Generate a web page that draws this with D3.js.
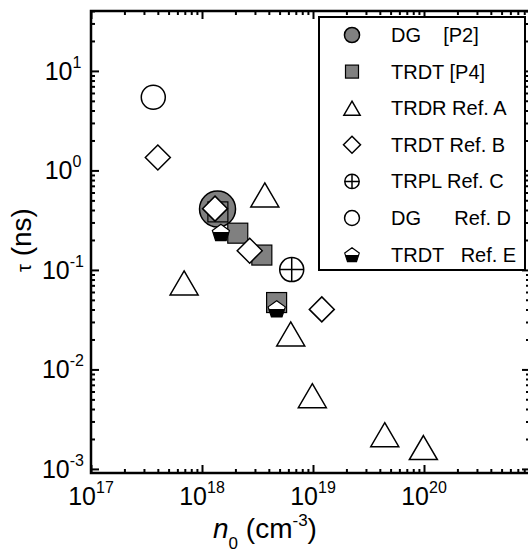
<!DOCTYPE html>
<html>
<head>
<meta charset="utf-8">
<script src="https://cdn.jsdelivr.net/npm/d3@7"></script>
<style>
  html, body { margin: 0; padding: 0; background: #fff; }
  svg { display: block; font-family: "Liberation Sans", Arial, sans-serif; }
  .leg text { white-space: pre; }
</style>
</head>
<body>
<div id="chart"></div>
<script>
// values: [n0 (cm^-3), tau (ns)]
var dgP2     = [[1.38e18, 0.41]];
var trdtP4   = [[1.39e18, 0.383], [2.1e18, 0.234], [3.46e18, 0.141], [4.7e18, 0.047]];
var trdrRefA = [[6.9e17, 0.074], [3.68e18, 0.567], [6.3e18, 0.0227], [9.86e18, 0.00544], [4.43e19, 0.00221], [9.87e19, 0.00164]];
var trdtRefB = [[4.0e17, 1.35], [1.31e18, 0.413], [2.69e18, 0.156], [1.2e19, 0.0401]];
var trplRefC = [[6.43e18, 0.1007]];
var dgRefD   = [[3.64e17, 5.44]];
var trdtRefE = [[1.48e18, 0.239], [4.71e18, 0.0408]];

var xMajor = [1e17, 1e18, 1e19, 1e20];
var xExp = ["17", "18", "19", "20"];
var yMajor = [1e1, 1e0, 1e-1, 1e-2, 1e-3];
var yExp = ["1", "0", "-1", "-2", "-3"];

var legendLabels = ["DG    [P2]", "TRDT [P4]", "TRDR Ref. A", "TRDT Ref. B", "TRPL Ref. C", "DG      Ref. D", "TRDT   Ref. E"];
var legendTypes = ["gcircle", "gsquare", "triangle", "diamond", "ocross", "ocircle", "pentagon"];

var W = 528, H = 554;
var margin = {top: 11, right: -2, bottom: 81, left: 91};
var pL = margin.left, pR = W - margin.right, pT = margin.top, pB = H - margin.bottom;
var xMax = Math.pow(10, 17 + (pR - pL) / 111);

var svg = d3.select("#chart").append("svg").attr("width", W).attr("height", H);

var defs = svg.append("defs");
var grad = defs.append("linearGradient").attr("id", "halfblack")
    .attr("x1", 0).attr("y1", 0).attr("x2", 0).attr("y2", 1);
grad.append("stop").attr("offset", "50%").attr("stop-color", "#fff");
grad.append("stop").attr("offset", "50%").attr("stop-color", "#000");

var x = d3.scaleLog().domain([1e17, xMax]).range([pL, pR]);
var y = d3.scaleLog().domain([9.1e-4, 40]).range([pB, pT]);

function minors(lo, hi) {
  var out = [];
  for (var e = lo; e < hi; e++)
    for (var m = 2; m <= 9; m++) out.push(m * Math.pow(10, e));
  return out;
}
var xMinor = minors(17, 21).filter(function(v) { return v <= xMax; });
var yMinor = minors(-4, 2).filter(function(v) { return v >= 9.1e-4 && v <= 40; });

function addAxis(axisFn, scale, vals, size, tr) {
  var g = svg.append("g").attr("transform", tr)
    .call(axisFn(scale).tickValues(vals).tickSize(-size).tickFormat(""));
  g.select(".domain").remove();
  g.selectAll(".tick line").attr("stroke", "#000").attr("stroke-width", 2);
}
addAxis(d3.axisBottom, x, xMajor, 8, "translate(0," + pB + ")");
addAxis(d3.axisBottom, x, xMinor, 4, "translate(0," + pB + ")");
addAxis(d3.axisTop, x, xMajor, 8, "translate(0," + pT + ")");
addAxis(d3.axisTop, x, xMinor, 4, "translate(0," + pT + ")");
addAxis(d3.axisLeft, y, yMajor, 8, "translate(" + pL + ",0)");
addAxis(d3.axisLeft, y, yMinor, 4, "translate(" + pL + ",0)");
addAxis(d3.axisRight, y, yMajor, 8, "translate(" + pR + ",0)");
addAxis(d3.axisRight, y, yMinor, 4, "translate(" + pR + ",0)");

// tick labels
var xl = svg.append("g").selectAll("text").data(xMajor).enter().append("text")
    .attr("x", function(d) { return x(d); })
    .attr("y", pB + 32)
    .attr("text-anchor", "middle")
    .attr("font-size", 25);
xl.append("tspan").text("10");
xl.append("tspan").attr("dy", -12).attr("font-size", 16).text(function(d, i) { return xExp[i]; });

var yl = svg.append("g").selectAll("text").data(yMajor).enter().append("text")
    .attr("x", 63)
    .attr("y", function(d) { return y(d) + 9; })
    .attr("text-anchor", "middle")
    .attr("font-size", 25);
yl.append("tspan").text("10");
yl.append("tspan").attr("dy", -12).attr("font-size", 16).text(function(d, i) { return yExp[i]; });

// axis titles
var xt = svg.append("text").attr("x", 213).attr("y", 538).attr("font-size", 28);
xt.append("tspan").attr("font-style", "italic").text("n");
xt.append("tspan").attr("font-size", 17).attr("dy", 11).text("0");
xt.append("tspan").attr("dy", -11).text(" (cm");
xt.append("tspan").attr("font-size", 17).attr("dy", -12).text("-3");
xt.append("tspan").attr("dy", 12).text(")");

var yt = svg.append("text")
    .attr("transform", "translate(31,272) rotate(-90)")
    .attr("font-size", 28);
yt.append("tspan").attr("font-size", 20).text("\u03c4");
yt.append("tspan").text(" (ns)");

// markers
function marker(g, type, cx, cy, s) {
  var t;
  if (type === "gcircle") {
    g.append("circle").attr("cx", cx).attr("cy", cy).attr("r", 18 * s)
      .attr("fill", "#808080").attr("stroke", "#000").attr("stroke-width", 1.5);
  } else if (type === "gsquare") {
    g.append("rect").attr("x", cx - 10 * s).attr("y", cy - 10 * s)
      .attr("width", 20 * s).attr("height", 20 * s)
      .attr("fill", "#808080").attr("stroke", "#000").attr("stroke-width", 1.2);
  } else if (type === "triangle") {
    g.append("path").attr("d", "M" + cx + "," + (cy - 12 * s) + "L" + (cx + 14 * s) + "," + (cy + 12 * s) +
        "L" + (cx - 14 * s) + "," + (cy + 12 * s) + "Z")
      .attr("fill", "#fff").attr("stroke", "#000").attr("stroke-width", 1.5);
  } else if (type === "diamond") {
    t = 12.5 * s;
    g.append("path").attr("d", "M" + cx + "," + (cy - t) + "L" + (cx + t) + "," + cy +
        "L" + cx + "," + (cy + t) + "L" + (cx - t) + "," + cy + "Z")
      .attr("fill", "#fff").attr("stroke", "#000").attr("stroke-width", 1.5);
  } else if (type === "ocross") {
    t = 12 * s;
    g.append("circle").attr("cx", cx).attr("cy", cy).attr("r", t)
      .attr("fill", "#fff").attr("stroke", "#000").attr("stroke-width", 1.5);
    g.append("path").attr("d", "M" + (cx - t) + "," + cy + "H" + (cx + t) + "M" + cx + "," + (cy - t) + "V" + (cy + t))
      .attr("stroke", "#000").attr("stroke-width", 1.5);
  } else if (type === "ocircle") {
    g.append("circle").attr("cx", cx).attr("cy", cy).attr("r", 12 * s)
      .attr("fill", "#fff").attr("stroke", "#000").attr("stroke-width", 1.5);
  } else if (type === "pentagon") {
    var pts = d3.range(5).map(function(k) {
      var a = -Math.PI / 2 + k * 2 * Math.PI / 5;
      return [cx + 9 * s * Math.cos(a), cy + 1 * s + 9 * s * Math.sin(a)];
    });
    g.append("path").attr("d", "M" + pts.join("L") + "Z")
      .attr("fill", "url(#halfblack)").attr("stroke", "#000").attr("stroke-width", 1.2);
  }
}

var series = [
  ["gcircle", dgP2], ["gsquare", trdtP4], ["triangle", trdrRefA], ["diamond", trdtRefB],
  ["ocross", trplRefC], ["ocircle", dgRefD], ["pentagon", trdtRefE]
];
var pg = svg.append("g");
series.forEach(function(sr) {
  sr[1].forEach(function(d) { marker(pg, sr[0], x(d[0]), y(d[1]), 1); });
});

// frame
svg.append("rect").attr("x", pL).attr("y", pT)
    .attr("width", pR - pL).attr("height", pB - pT)
    .attr("fill", "none").attr("stroke", "#000").attr("stroke-width", 2.5);

// legend
var leg = svg.append("g").attr("class", "leg");
leg.append("rect").attr("x", 319).attr("y", 17).attr("width", 206).attr("height", 253)
    .attr("fill", "#fff").attr("stroke", "#000").attr("stroke-width", 2);
var legScale = [0.42, 0.65, 0.58, 0.68, 0.6, 0.62, 0.85];
legendLabels.forEach(function(lab, i) {
  var cy = 35 + i * 36.6;
  marker(leg, legendTypes[i], 352, cy, legScale[i]);
  leg.append("text").attr("x", 391).attr("y", cy + 7).attr("font-size", 20).text(lab);
});
</script>
</body>
</html>
